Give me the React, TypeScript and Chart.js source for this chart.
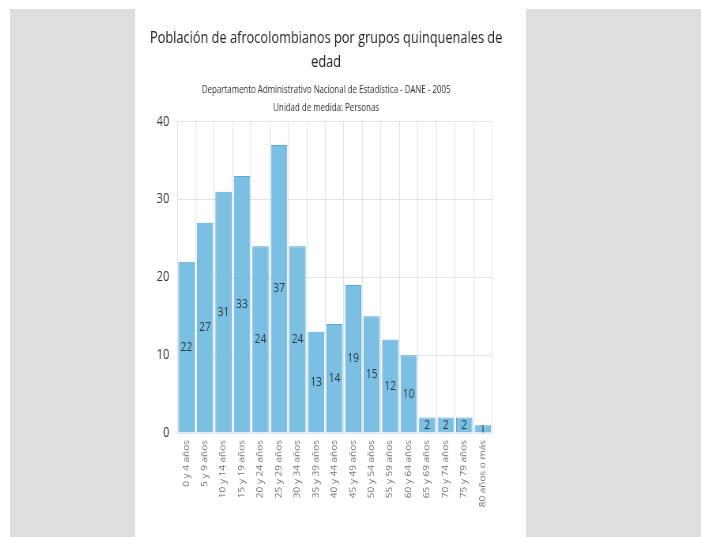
import React, { useEffect, useRef } from "react";
import { Chart, registerables } from "chart.js";

Chart.register(...registerables);

const titleLines = ["Población de afrocolombianos por grupos quinquenales de", "edad"];
const subtitleLines = [
  "Departamento Administrativo Nacional de Estadística - DANE - 2005",
  "Unidad de medida: Personas",
];
const categories = [
  "0 y 4 años",
  "5 y 9 años",
  "10 y 14 años",
  "15 y 19 años",
  "20 y 24 años",
  "25 y 29 años",
  "30 y 34 años",
  "35 y 39 años",
  "40 y 44 años",
  "45 y 49 años",
  "50 y 54 años",
  "55 y 59 años",
  "60 y 64 años",
  "65 y 69 años",
  "70 y 74 años",
  "75 y 79 años",
  "80 años o más",
];
const personas = [22, 27, 31, 33, 24, 37, 24, 13, 14, 19, 15, 12, 10, 2, 2, 2, 1];
const yTicks = [0, 10, 20, 30, 40];

const FONT = '"Open Sans", "Liberation Sans", sans-serif';

const barLabels = {
  id: "barLabels",
  afterDatasetsDraw(chart: any) {
    const ctx = chart.ctx;
    const meta = chart.getDatasetMeta(0);
    const data = chart.data.datasets[0].data;
    ctx.save();
    ctx.font = `13px ${FONT}`;
    ctx.fillStyle = "#2a3846";
    ctx.textAlign = "center";
    ctx.textBaseline = "middle";
    meta.data.forEach((el: any, i: number) => {
      const p = el.getProps(["x", "y", "base", "width"], true);
      ctx.save();
      ctx.beginPath();
      ctx.rect(p.x - p.width / 2, p.y, p.width, p.base - p.y);
      ctx.clip();
      ctx.fillText(String(data[i]), p.x, (p.y + p.base) / 2);
      ctx.restore();
    });
    ctx.restore();
  },
};

export default function App() {
  const ref = useRef<HTMLCanvasElement | null>(null);

  useEffect(() => {
    if (!ref.current) return;
    const chart = new Chart(ref.current, {
      type: "bar",
      data: {
        labels: categories,
        datasets: [
          {
            label: "Personas",
            data: personas,
            backgroundColor: "#7bc0e2",
            borderColor: "#58a7d1",
            borderWidth: 1,
            barPercentage: 0.88,
            categoryPercentage: 1,
          },
        ],
      },
      options: {
        animation: false,
        responsive: true,
        maintainAspectRatio: false,
        layout: { padding: 0 },
        plugins: {
          legend: { display: false },
          tooltip: { enabled: false },
          title: {
            display: true,
            text: titleLines,
            color: "#1e1e1e",
            font: { family: FONT, size: 16.2, weight: "normal", lineHeight: 1.5 },
            padding: { top: 17, bottom: 2 },
          },
          subtitle: {
            display: true,
            text: subtitleLines,
            color: "#2e2e2e",
            font: { family: FONT, size: 10, weight: "normal", lineHeight: 1.8 },
            padding: { top: 5, bottom: 4 },
          },
        },
        scales: {
          x: {
            grid: { color: "#e2e2e2", drawTicks: false, offset: true },
            border: { color: "#e2e2e2" },
            ticks: {
              autoSkip: false,
              maxRotation: 90,
              minRotation: 90,
              padding: 7,
              color: "#707070",
              font: { family: FONT, size: 10 },
            },
            afterFit: (s: any) => {
              s.height = 104;
            },
          },
          y: {
            min: 0,
            max: 40,
            grid: { color: "#e2e2e2", drawTicks: false },
            border: { color: "#e2e2e2" },
            afterBuildTicks: (s: any) => {
              s.ticks = yTicks.map((v) => ({ value: v }));
            },
            ticks: {
              padding: 10,
              color: "#333333",
              font: { family: FONT, size: 14 },
            },
            afterFit: (s: any) => {
              s.width = 61;
            },
          },
          yRight: {
            type: "linear",
            position: "right",
            display: true,
            grid: { display: false, drawTicks: false },
            border: { display: false },
            ticks: { display: false },
            afterFit: (s: any) => {
              s.width = 39.5;
            },
          },
        },
      } as any,
      plugins: [barLabels],
    });
    return () => chart.destroy();
  }, []);

  return (
    <div style={{ position: "fixed", inset: 0, background: "#ffffff" }}>
      <div
        style={{ position: "absolute", left: 10, top: 9, right: 0, bottom: 0, background: "#dedede" }}
      />
      <div
        style={{ position: "absolute", left: 135, top: 9, width: 391, bottom: 0, background: "#ffffff" }}
      />
      <div
        style={{
          position: "absolute",
          left: 129,
          top: 9,
          width: 499,
          height: 528,
          transform: "scaleX(0.79)",
          transformOrigin: "0 0",
        }}
      >
        <canvas ref={ref} />
      </div>
    </div>
  );
}
